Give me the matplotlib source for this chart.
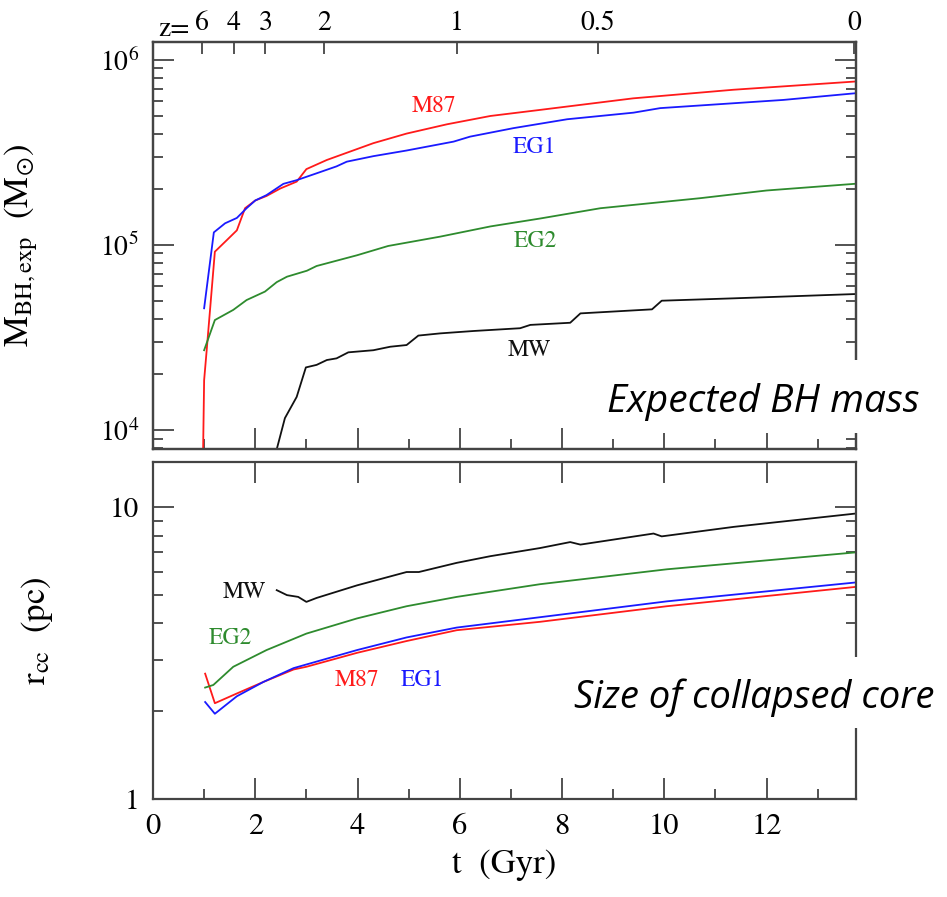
import numpy as np
import matplotlib
matplotlib.use("Agg")
import matplotlib.pyplot as plt
import matplotlib.ticker as ticker
from matplotlib.patches import Rectangle

plt.rcParams['font.family'] = ['STIXGeneral', 'DejaVu Serif']
plt.rcParams['mathtext.fontset'] = 'stix'

# ---- data ----
# top panel: expected BH mass (Msun) vs cosmic time (Gyr)
t_m87_top = [0.97, 1.0, 1.05, 1.21, 1.44, 1.64, 1.80, 2.0, 2.22, 2.49, 2.81, 3.0, 3.4,
             4.31, 4.96, 5.75, 6.6, 7.57, 9.39, 11.35, 13.72]
m_m87 = [5.0e3, 1.86e4, 2.7e4, 9.2e4, 1.06e5, 1.2e5, 1.58e5, 1.74e5, 1.84e5, 2.02e5, 2.2e5,
         2.57e5, 2.88e5, 3.55e5, 4.0e5, 4.49e5, 4.98e5, 5.37e5, 6.2e5, 6.9e5, 7.64e5]

t_eg1_top = [1.0, 1.19, 1.41, 1.64, 1.83, 2.0, 2.22, 2.55, 2.81, 3.2, 3.59, 3.79, 4.31,
             4.96, 5.88, 6.2, 7.05, 8.1, 9.4, 9.92, 12.33, 13.72]
m_eg1 = [4.55e4, 1.17e5, 1.31e5, 1.4e5, 1.58e5, 1.74e5, 1.86e5, 2.14e5, 2.24e5, 2.44e5, 2.66e5,
         2.82e5, 3.02e5, 3.24e5, 3.62e5, 3.85e5, 4.28e5, 4.78e5, 5.19e5, 5.49e5, 6.08e5, 6.6e5]

t_eg2_top = [1.0, 1.21, 1.57, 1.83, 2.19, 2.42, 2.62, 3.01, 3.2, 3.99, 4.6, 5.62, 6.6,
             7.57, 8.75, 10.7, 12.0, 13.72]
m_eg2 = [2.7e4, 3.93e4, 4.46e4, 5.04e4, 5.6e4, 6.3e4, 6.74e4, 7.26e4, 7.7e4, 8.8e4, 9.88e4,
         1.11e5, 1.26e5, 1.39e5, 1.58e5, 1.79e5, 1.97e5, 2.14e5]

t_mw_top = [2.40, 2.58, 2.81, 2.99, 3.2, 3.4, 3.59, 3.82, 4.31, 4.64, 4.96, 5.19, 5.62,
            6.27, 7.18, 7.38, 8.16, 8.36, 9.76, 9.95, 11.36, 13.72]
m_mw = [7.5e3, 1.16e4, 1.51e4, 2.18e4, 2.25e4, 2.39e4, 2.44e4, 2.63e4, 2.7e4, 2.82e4, 2.88e4,
        3.24e4, 3.33e4, 3.43e4, 3.55e4, 3.7e4, 3.8e4, 4.27e4, 4.49e4, 5.0e4, 5.15e4, 5.43e4]

# bottom panel: size of collapsed core (pc)
t_m87_bot = [1.02, 1.21, 1.64, 2.16, 2.75, 3.0, 3.99, 4.96, 5.94, 7.57, 10.05, 13.72]
r_m87 = [2.69, 2.13, 2.30, 2.52, 2.78, 2.84, 3.17, 3.48, 3.79, 4.05, 4.58, 5.33]

t_eg1_bot = [1.02, 1.21, 1.64, 2.16, 2.75, 3.99, 4.96, 5.94, 7.57, 10.05, 13.72]
r_eg1 = [2.15, 1.96, 2.25, 2.52, 2.81, 3.24, 3.58, 3.87, 4.2, 4.76, 5.52]

t_eg2_bot = [1.02, 1.18, 1.57, 2.22, 3.0, 3.99, 4.96, 5.94, 7.57, 10.05, 13.72]
r_eg2 = [2.41, 2.46, 2.84, 3.24, 3.69, 4.16, 4.58, 4.93, 5.45, 6.13, 7.0]

t_mw_bot = [2.42, 2.62, 2.84, 3.0, 3.2, 3.99, 4.96, 5.2, 5.94, 6.6, 7.57, 8.16, 8.36,
            9.79, 9.95, 11.36, 13.72]
r_mw = [5.2, 5.0, 4.93, 4.74, 4.89, 5.4, 6.0, 6.0, 6.45, 6.8, 7.25, 7.6, 7.45,
        8.13, 7.95, 8.57, 9.51]

# redshift ticks on the top axis
z_labels = ['6', '4', '3', '2', '1', '0.5', '0']
z_ages = [0.96, 1.58, 2.2, 3.35, 5.95, 8.7, 13.72]

c_red, c_blue, c_green, c_black = '#ff1a1a', '#1a1aff', '#2e8b2e', '#111111'
spine_col = '#444444'

fig = plt.figure(figsize=(9.47, 8.97), dpi=100)
ax1 = fig.add_axes([153/947, 1-449/897, 703/947, 407/897])
ax2 = fig.add_axes([153/947, 1-799/897, 703/947, 337/897])

lw = 1.3
ax1.plot(t_m87_top, m_m87, color=c_red, lw=lw)
ax1.plot(t_eg1_top, m_eg1, color=c_blue, lw=lw)
ax1.plot(t_eg2_top, m_eg2, color=c_green, lw=lw)
ax1.plot(t_mw_top, m_mw, color=c_black, lw=lw)

ax2.plot(t_m87_bot, r_m87, color=c_red, lw=lw)
ax2.plot(t_eg1_bot, r_eg1, color=c_blue, lw=lw)
ax2.plot(t_eg2_bot, r_eg2, color=c_green, lw=lw)
ax2.plot(t_mw_bot, r_mw, color=c_black, lw=lw)

for ax in (ax1, ax2):
    ax.set_xlim(0, 13.75)
    ax.set_yscale('log')
    ax.xaxis.set_major_locator(ticker.MultipleLocator(2))
    ax.xaxis.set_minor_locator(ticker.MultipleLocator(1))
    ax.yaxis.set_minor_formatter(ticker.NullFormatter())
    ax.tick_params(which='both', direction='in', right=True, color=spine_col, width=1.3)
    ax.tick_params(which='major', length=15)
    ax.tick_params(which='minor', length=7.5)
    for s in ax.spines.values():
        s.set_color(spine_col)
        s.set_linewidth(1.6)

ax1.set_ylim(7.9e3, 1.25e6)
ax2.set_ylim(1, 14.3)
ax1.tick_params(axis='x', top=False, labelbottom=False)
ax2.tick_params(axis='x', top=True, labelsize=22, pad=10)
ax1.tick_params(axis='y', labelsize=20, pad=10)
ax2.tick_params(axis='y', labelsize=21, pad=10)
ax2.yaxis.set_major_formatter(ticker.FuncFormatter(lambda v, p: f'{v:g}'))

# redshift axis on top
axz = ax1.twiny()
axz.set_xlim(ax1.get_xlim())
axz.set_xticks(z_ages)
axz.set_xticklabels(z_labels)
axz.xaxis.set_minor_locator(ticker.NullLocator())
axz.tick_params(axis='x', direction='in', length=8.5, color=spine_col, width=1.3,
                labelsize=20, pad=4)
for s in axz.spines.values():
    s.set_color(spine_col)
    s.set_linewidth(1.6)
axz.text(z_ages[0] - 0.24, 1.0, 'z=', transform=axz.get_xaxis_transform(),
         ha='right', va='bottom', fontsize=20)

ax1.set_ylabel(r'$\mathrm{M_{BH,exp}}\ \ (\mathrm{M_{\odot}})$', fontsize=25)
ax1.yaxis.set_label_coords(-0.161, 0.5)
ax2.set_ylabel(r'$\mathrm{r_{cc}}\ \ (\mathrm{pc})$', fontsize=25)
ax2.yaxis.set_label_coords(-0.139, 0.5)
ax2.set_xlabel('t  (Gyr)', fontsize=25, labelpad=6)

# curve labels
fs = 17
ax1.text(5.5, 5.64e5, 'M87', color=c_red, fontsize=fs, ha='center', va='center')
ax1.text(7.46, 3.39e5, 'EG1', color=c_blue, fontsize=fs, ha='center', va='center')
ax1.text(7.48, 1.05e5, 'EG2', color=c_green, fontsize=fs, ha='center', va='center')
ax1.text(7.36, 2.7e4, 'MW', color=c_black, fontsize=fs, ha='center', va='center')

ax2.text(1.78, 5.12, 'MW', color=c_black, fontsize=fs, ha='center', va='center')
ax2.text(1.51, 3.56, 'EG2', color=c_green, fontsize=fs, ha='center', va='center')
ax2.text(3.99, 2.56, 'M87', color=c_red, fontsize=fs, ha='center', va='center')
ax2.text(5.27, 2.56, 'EG1', color=c_blue, fontsize=fs, ha='center', va='center')

# white boxes with italic captions
W, H = 947, 897
fig.patches.append(Rectangle((598/W, 1-433/H), (W-598)/W, 73/H, transform=fig.transFigure,
                             facecolor='white', edgecolor='none', zorder=5))
fig.patches.append(Rectangle((565/W, 1-728/H), (W-565)/W, 71/H, transform=fig.transFigure,
                             facecolor='white', edgecolor='none', zorder=5))
fig.text(607/W, 1-412/H, 'Expected BH mass', fontsize=28, style='italic',
         family='Open Sans', ha='left', va='baseline', zorder=6)
fig.text(574/W, 1-708/H, 'Size of collapsed core', fontsize=27.5, style='italic',
         family='Open Sans', ha='left', va='baseline', zorder=6)

fig.savefig('out.png', dpi=100)
